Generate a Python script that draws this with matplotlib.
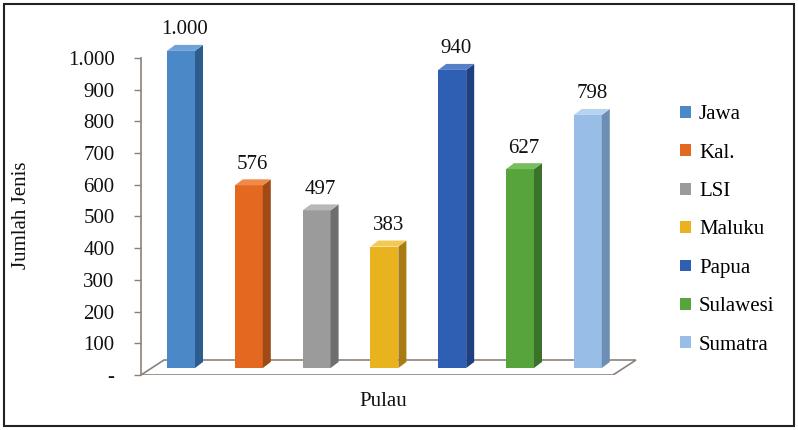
import matplotlib.pyplot as plt
from matplotlib.patches import Polygon, Patch, Rectangle

plt.rcParams['font.family'] = ['Liberation Serif', 'DejaVu Serif']

pulau = ['Jawa', 'Kal.', 'LSI', 'Maluku', 'Papua', 'Sulawesi', 'Sumatra']
jumlah = [1000, 576, 497, 383, 940, 627, 798]
front_colors = ['#4a88c8', '#e2691f', '#9b9b9b', '#e9b21f', '#2f5fb3', '#57a43c', '#98bde6']
side_colors = ['#2d5d8f', '#a04a18', '#6e6e6e', '#a87c12', '#1e4080', '#3b722a', '#6d8db4']
top_colors = ['#6fa3d8', '#f08a48', '#b8b8b8', '#f3c955', '#5580c8', '#78bd5e', '#b8d3f0']
yticks = [0, 100, 200, 300, 400, 500, 600, 700, 800, 900, 1000]
ytick_labels = ['-', '100', '200', '300', '400', '500', '600', '700', '800', '900', '1.000']

W, H = 798, 430
fig = plt.figure(figsize=(W / 100, H / 100), dpi=100)
fig.patch.set_facecolor('white')

ax_l, ax_r, ax_b, ax_t = 141, 640, 375, 10
ax = fig.add_axes([ax_l / W, (H - ax_b) / H, (ax_r - ax_l) / W, (ax_b - ax_t) / H])
ax.set_xlim(-0.59, 6.77)
ax.set_ylim(0, 1151)

# pixel -> data scale
px_x = (ax_r - ax_l) / (6.77 + 0.59)
px_y = (ax_b - ax_t) / 1151.0
def dxd(p):
    return p / px_x
def dyd(p):
    return p / px_y

# floor
fl_x0, fl_x1 = -0.59, dxd(613 - 181)
fd_x, fd_y = dxd(23), dyd(15)
floor = Polygon([(fl_x0, 0), (fl_x1, 0), (fl_x1 + fd_x, fd_y), (fl_x0 + fd_x, fd_y)],
                closed=True, facecolor='white', edgecolor='#8c817a', lw=1.2, zorder=1)
ax.add_patch(floor)

# bars with fake depth
w = dxd(28)
bx, by = dxd(8), dyd(6)
base = dyd(7)
for i, (v, fc, sc, tc) in enumerate(zip(jumlah, front_colors, side_colors, top_colors)):
    ax.bar(i, v, width=w, bottom=base, color=fc, edgecolor='none', zorder=3)
    r = i + w / 2
    l = i - w / 2
    ax.add_patch(Polygon([(r, base), (r + bx, base + by), (r + bx, base + v + by), (r, base + v)],
                         closed=True, facecolor=sc, edgecolor='none', zorder=3))
    ax.add_patch(Polygon([(l, base + v), (r, base + v), (r + bx, base + v + by), (l + bx, base + v + by)],
                         closed=True, facecolor=tc, edgecolor='none', zorder=3))
    lab = '{:,}'.format(v).replace(',', '.')
    ax.annotate(lab, (i + bx / 2, base + v + by), xytext=(0, 4), textcoords='offset points',
                ha='center', va='bottom', fontsize=15, color='#111111')

for s in ['top', 'right', 'bottom']:
    ax.spines[s].set_visible(False)
ax.spines['left'].set_color('#8c817a')
ax.spines['left'].set_linewidth(1.2)
ax.spines['left'].set_bounds(0, 1000)
ax.set_yticks(yticks)
ax.set_yticklabels(ytick_labels)
ax.tick_params(axis='y', length=5, width=1, color='#8c817a', pad=14, labelsize=15, labelcolor='#111111')
ax.set_xticks([])
ax.patch.set_alpha(0)

fig.text(22 / W, 1 - 215 / H, 'Jumlah Jenis', rotation=90, ha='center', va='center',
         fontsize=15, color='#111111')
fig.text(383 / W, 1 - 402 / H, 'Pulau', ha='center', va='center', fontsize=15, color='#111111')

handles = [Patch(facecolor=c, edgecolor='none') for c in front_colors]
fig.legend(handles, pulau, loc='upper left', bbox_to_anchor=(672 / W, 1 - 97 / H),
           frameon=False, fontsize=15, handlelength=0.5, handleheight=0.5,
           handletextpad=0.4, labelspacing=0.93, borderaxespad=0)

fig.patches.append(Rectangle((4 / W, 4 / H), 1 - 8 / W, 1 - 8 / H, transform=fig.transFigure,
                             fill=False, edgecolor='#222222', lw=1.5))

fig.savefig('out.png', dpi=100)
